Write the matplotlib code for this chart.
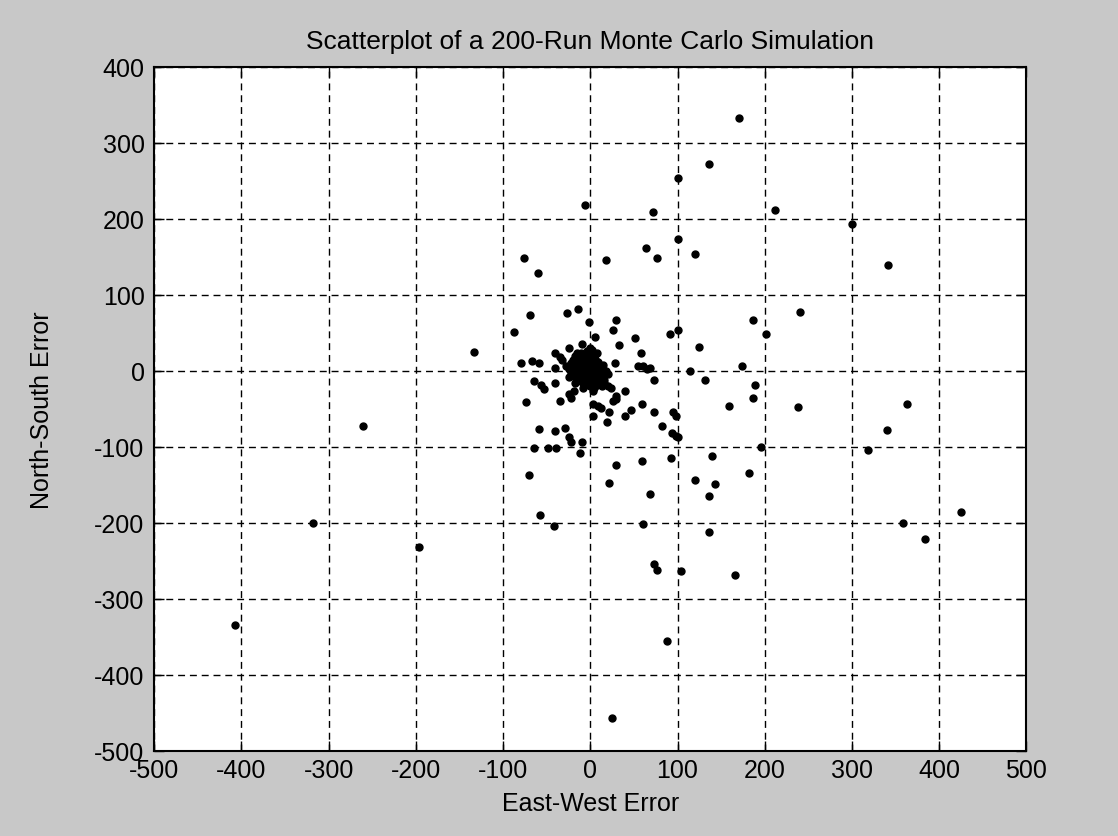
import numpy as np
import matplotlib.pyplot as plt

# 200 Monte Carlo runs, read off the scatter quadrant by quadrant
# upper-left
ew_ul = [-6, -76, -60, -69, -88, -133, -27, -14, -1, -80, -67, -59, -41, -35, -32, -24, -10, -41]
ns_ul = [218, 148, 129, 74, 51, 25, 76, 81, 64, 10, 13, 10, 23, 18, 15, 30, 36, 4]

# upper-right
ew_ur = [171, 136, 101, 72, 212, 300, 101, 64, 76, 18, 120, 341, 241, 187, 201, 30, 26, 5, 51, 91,
         100, 125, 174, 114, 28, 55, 60, 65, 68, 33, 58]
ns_ur = [333, 272, 254, 209, 212, 194, 173, 162, 149, 146, 154, 140, 78, 67, 49, 67, 54, 45, 44, 49,
         54, 31, 6, 0, 10, 6, 7, 2, 4, 34, 24]

# lower-left
ew_ll = [-261, -318, -197, -408, -74, -59, -70, -58, -42, -65, -49, -39, -41, -29, -24, -22, -12, -9,
         -65, -56, -53, -41, -35, -22, -19, -24]
ns_ll = [-73, -200, -231, -334, -41, -76, -137, -189, -204, -101, -102, -102, -79, -75, -87, -93, -108, -94,
         -13, -19, -24, -16, -39, -36, -26, -30]

# lower-right
ew_lr = [131, 189, 186, 159, 238, 363, 340, 319, 196, 140, 182, 120, 143, 136, 136, 425, 359, 384, 166, 104,
         73, 76, 88, 25, 61, 69, 29, 22, 59, 92, 94, 98, 101, 95, 98, 82, 73, 59, 47, 40,
         19, 21, 3, 3, 9, 29, 26, 40, 24, 3, 73, 16, 20, 29, 12]
ns_lr = [-12, -18, -36, -46, -47, -44, -78, -104, -100, -112, -134, -144, -149, -165, -212, -186, -200, -221, -268, -263,
         -254, -262, -355, -457, -202, -162, -124, -147, -118, -115, -81, -86, -87, -54, -59, -73, -54, -44, -52, -59,
         -67, -54, -59, -44, -46, -37, -40, -26, -23, -26, -12, -16, -20, -33, -49]

# dense blob round the origin
ew_core = [-28, -25, -22, -22, -20, -19, -18, -17, -16, -15, -14, -13, -12, -12, -11, -10, -10, -9, -9, -8,
           -7, -7, -6, -6, -5, -5, -4, -4, -3, -3, -2, -2, -1, -1, 0, 0, 1, 1, 2, 2,
           3, 3, 4, 4, 5, 5, 6, 7, 7, 8, 9, 9, 10, 11, 12, 12, 13, 14, 15, 16,
           18, 20, -18, -24, -15, 8, -8, 0, 2, -6]
ns_core = [6, 2, 10, -3, 15, 5, -8, 20, 0, 12, -12, 6, -4, 18, 24, 10, -15, 2, -8, 14,
           5, -3, 20, -18, 9, -10, 1, 26, -5, 14, 6, -14, 18, -1, 10, -20, 3, -8, 22, -3,
           12, -15, 6, -22, 0, 16, -10, 8, -5, -18, 2, 12, -8, -13, 4, -2, -20, 8, -6, -12,
           0, -4, -16, -8, 24, 24, -22, 30, 28, -6]

x_ticks = [-500, -400, -300, -200, -100, 0, 100, 200, 300, 400, 500]
y_ticks = [-500, -400, -300, -200, -100, 0, 100, 200, 300, 400]

plt.rcParams['font.family'] = ['Liberation Sans', 'DejaVu Sans']
plt.rcParams['axes.unicode_minus'] = False   # plain hyphens like the original

ew = ew_ul + ew_ur + ew_ll + ew_lr + ew_core
ns = ns_ul + ns_ur + ns_ll + ns_lr + ns_core

fig = plt.figure(figsize=(11.18, 8.37), dpi=100, facecolor='#c8c8c8')
ax = fig.add_axes([0.138, 0.1016, 0.780, 0.8172])
ax.set_facecolor('white')
ax.set_axisbelow(True)

ax.plot(ew, ns, 'o', color='black', ms=5, mec='black', ls='none')

ax.set_xlim(-500, 500)
ax.set_ylim(-500, 400)
ax.set_xticks(x_ticks)
ax.set_yticks(y_ticks)
ax.grid(True, color='black', linestyle=(0, (5, 3.5)), linewidth=1.0)

# matlab style: ticks inside, on every side
ax.tick_params(direction='in', length=7, width=1, top=True, right=True,
               labelsize=18, colors='black')
ax.tick_params(axis='x', pad=5)
ax.tick_params(axis='y', pad=7)
for s in ax.spines.values():
    s.set_linewidth(1.5)
    s.set_color('black')

ax.set_title('Scatterplot of a 200-Run Monte Carlo Simulation', fontsize=19, pad=14)
ax.set_xlabel('East-West Error', fontsize=18)
ax.set_ylabel('North-South Error', fontsize=18)
ax.xaxis.set_label_coords(0.5, -0.058)
ax.yaxis.set_label_coords(-0.115, 0.5)

fig.savefig('out.png', dpi=100, facecolor=fig.get_facecolor())
